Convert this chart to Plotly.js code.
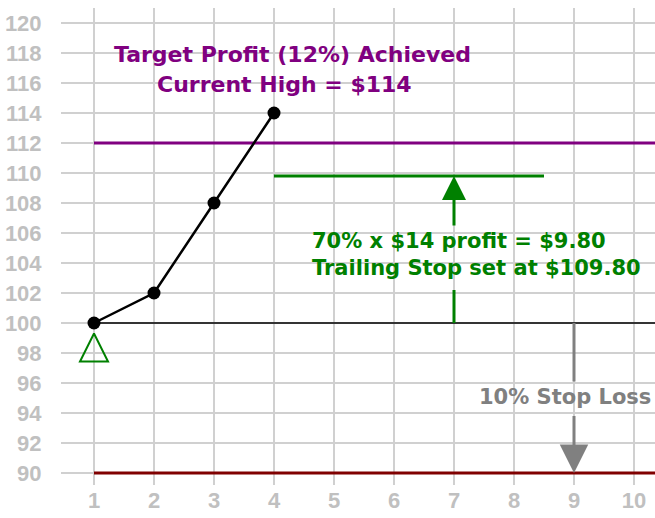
<!DOCTYPE html>
<html>
<head>
<meta charset="utf-8">
<script src="https://cdn.plot.ly/plotly-3.0.1.min.js"></script>
<style>
html,body{margin:0;padding:0;background:#fff;}
#chart{width:655px;height:518px;}
</style>
</head>
<body>
<div id="chart"></div>
<script>
// ---- data ----
const days = [1, 2, 3, 4];
const prices = [100, 102, 108, 114];
const entryPrice = 100;
const targetPrice = 112;
const stopLossPrice = 90;
const trailingStop = 109.8;
const trailingSpan = [4, 8.5];
const levelSpan = [1, 10.6];
const buyMarkerX = [1];
const buyMarkerY = [99.3];
const xTicks = [1, 2, 3, 4, 5, 6, 7, 8, 9, 10];
const yTicks = [90, 92, 94, 96, 98, 100, 102, 104, 106, 108, 110, 112, 114, 116, 118, 120];
const trailArrowX = 7;
const stopArrowX = 9;
const textProfit = ["Target Profit (12%) Achieved", "Current High = $114"];
const textTrail = ["70% x $14 profit = $9.80", "Trailing Stop set at $109.80"];
const textStop = "10% Stop Loss";

const FONT = "DejaVu Sans, Verdana, sans-serif";
const TICKFONT = "Liberation Sans, Arial, sans-serif";
const PURPLE = "#800080", GREEN = "#008000", GRAY = "#808080", DARKRED = "#800000";

const traces = [
  {x: levelSpan, y: [targetPrice, targetPrice], mode: "lines", line: {color: PURPLE, width: 3}},
  {x: levelSpan, y: [stopLossPrice, stopLossPrice], mode: "lines", line: {color: DARKRED, width: 3}},
  {x: levelSpan, y: [entryPrice, entryPrice], mode: "lines", line: {color: "#000", width: 1.5}},
  {x: trailingSpan, y: [trailingStop, trailingStop], mode: "lines", line: {color: GREEN, width: 3}},
  // green arrow shaft lower part
  {x: [trailArrowX, trailArrowX], y: [entryPrice, 102.2], mode: "lines", line: {color: GREEN, width: 3}},
  // gray arrow shaft upper part
  {x: [stopArrowX, stopArrowX], y: [entryPrice, 96.1], mode: "lines", line: {color: GRAY, width: 3}},
  {x: days, y: prices, mode: "lines+markers", line: {color: "#000", width: 2.5},
   marker: {color: "#000", size: 13}},
  {x: buyMarkerX, y: buyMarkerY, mode: "markers",
   marker: {symbol: "arrow-up-open", size: 28, color: GREEN, line: {color: GREEN, width: 2}}}
];

const annotations = [
  {x: 4.3, y: 117.87, xref: "x", yref: "y", text: textProfit[0], showarrow: false,
   font: {family: FONT, size: 22, color: PURPLE, weight: "bold"}, xanchor: "center", yanchor: "middle"},
  {x: 4.18, y: 115.87, xref: "x", yref: "y", text: textProfit[1], showarrow: false,
   font: {family: FONT, size: 22, color: PURPLE, weight: "bold"}, xanchor: "center", yanchor: "middle"},
  {x: 4.6, y: 105.5, xref: "x", yref: "y", text: textTrail[0], showarrow: false,
   font: {family: FONT, size: 21, color: GREEN, weight: "bold"}, xanchor: "left", yanchor: "middle"},
  {x: 4.6, y: 103.7, xref: "x", yref: "y", text: textTrail[1], showarrow: false,
   font: {family: FONT, size: 21, color: GREEN, weight: "bold"}, xanchor: "left", yanchor: "middle"},
  {x: 7.38, y: 95.05, xref: "x", yref: "y", text: textStop, showarrow: false,
   font: {family: FONT, size: 21, color: GRAY, weight: "bold"}, xanchor: "left", yanchor: "middle"},
  // green arrow upper part with head
  {x: trailArrowX, y: trailingStop, ax: trailArrowX, ay: 106.4, xref: "x", yref: "y", axref: "x", ayref: "y",
   text: "", showarrow: true, arrowhead: 2, arrowsize: 1.6, arrowwidth: 3, arrowcolor: GREEN},
  // gray arrow lower part with head
  {x: stopArrowX, y: stopLossPrice, ax: stopArrowX, ay: 93.9, xref: "x", yref: "y", axref: "x", ayref: "y",
   text: "", showarrow: true, arrowhead: 2, arrowsize: 1.9, arrowwidth: 3, arrowcolor: GRAY}
];

const layout = {
  width: 655, height: 518,
  margin: {l: 61, r: 0, t: 8, b: 33},
  paper_bgcolor: "#fff", plot_bgcolor: "#fff",
  showlegend: false,
  xaxis: {
    range: [0.45, 10.35], tickvals: xTicks, ticktext: xTicks.map(String),
    showgrid: true, gridcolor: "#d0d0d0", gridwidth: 2, zeroline: false, showline: false,
    ticks: "", ticklen: 0,
    tickfont: {family: TICKFONT, size: 22, color: "#c0c0c0", weight: "bold"}
  },
  yaxis: {
    range: [89.2, 121], tickvals: yTicks, ticktext: yTicks.map(String),
    showgrid: true, gridcolor: "#d0d0d0", gridwidth: 2, zeroline: false, showline: false,
    ticks: "outside", ticklen: 14, tickcolor: "rgba(0,0,0,0)",
    tickfont: {family: TICKFONT, size: 22, color: "#c0c0c0", weight: "bold"}
  },
  annotations: annotations
};

Plotly.newPlot("chart", traces, layout, {displayModeBar: false, staticPlot: true});
</script>
</body>
</html>
